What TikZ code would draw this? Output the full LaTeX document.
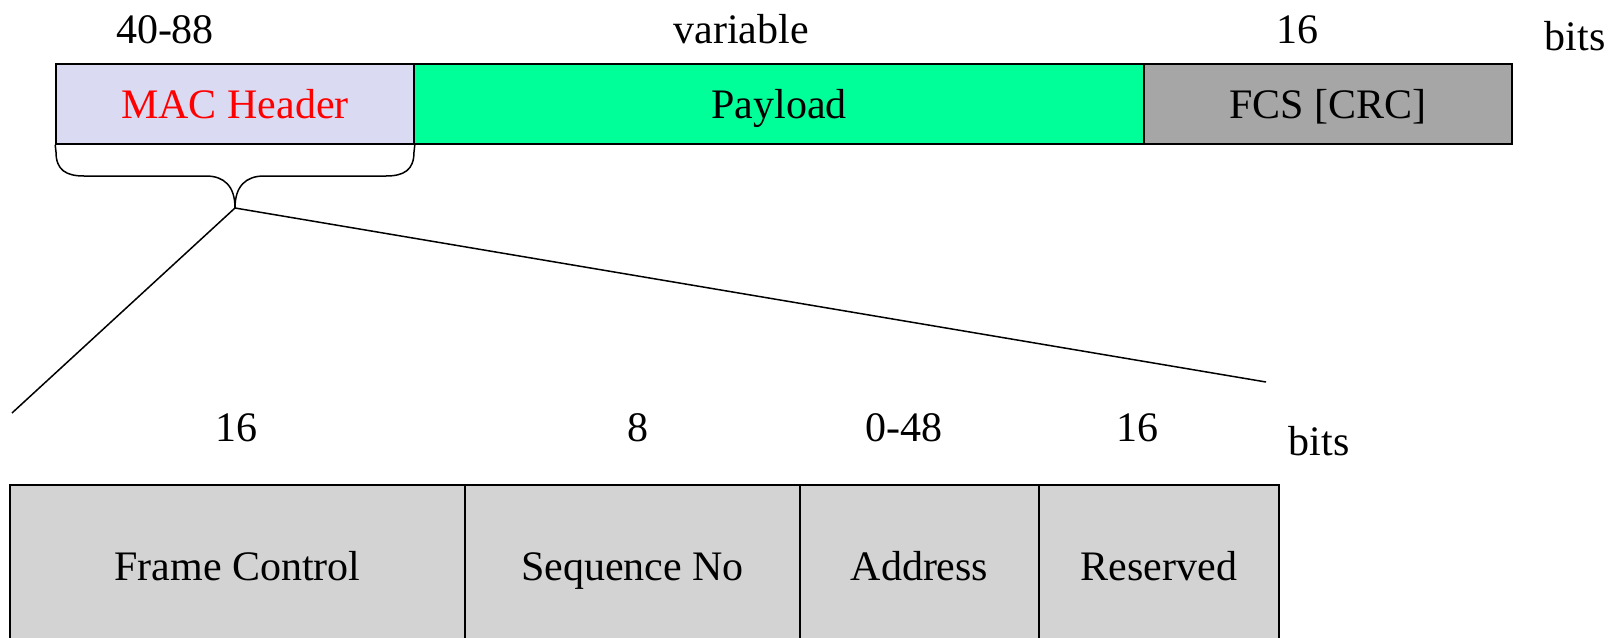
\documentclass[tikz,border=0pt]{standalone}
\usepackage{fontspec}
\setmainfont{Liberation Serif}
\definecolor{macfill}{RGB}{218,218,243}
\definecolor{payfill}{RGB}{0,255,153}
\definecolor{fcsfill}{RGB}{166,166,166}
\definecolor{subfill}{RGB}{211,211,211}
\begin{document}
\begin{tikzpicture}[x=0.5pt,y=-0.5pt,
  every node/.style={font=\fontsize{21}{25}\selectfont, text height=14.3pt, text depth=0pt},
  field/.style={draw=black, line width=0.8pt, inner sep=0pt, anchor=center},
  lbl/.style={inner sep=0pt, anchor=center},
  link/.style={draw=black, line width=0.75pt}]
\useasboundingbox (0,0) rectangle (1621,637);
% top frame
\node[field, fill=macfill, text=red, minimum width=179pt, minimum height=40pt] (mac) at (235,104) {MAC Header};
\node[field, fill=payfill, minimum width=365pt, minimum height=40pt] (pay) at (779,104) {Payload};
\node[field, fill=fcsfill, minimum width=184pt, minimum height=40pt] (fcs) at (1328,104) {FCS [CRC]};
\node[lbl] (l1) at (165,29) {40-88};
\node[lbl] (l2) at (741,29) {variable};
\node[lbl] (l3) at (1297,29) {16};
\node[lbl] (l4) at (1575,36) {bits};
% brace
\coordinate (tip) at (235,208);
\draw[link] (mac.south west) -- (56,152) .. controls (56,170) and (66,176) .. (84,176) -- (206,176)
  .. controls (224,176) and (235,186) .. (tip)
  .. controls (235,186) and (246,176) .. (264,176) -- (386,176)
  .. controls (404,176) and (414,170) .. (414,152) -- (mac.south east);
% expansion lines
\coordinate (ea) at (12,413);
\coordinate (eb) at (1266,382);
\draw[link] (tip) -- (ea);
\draw[link] (tip) -- (eb);
% bottom header fields
\node[field, fill=subfill, minimum width=227.5pt, minimum height=81pt] (fc) at (237.5,566) {Frame Control};
\node[field, fill=subfill, minimum width=167.5pt, minimum height=81pt] (seq) at (632.5,566) {Sequence No};
\node[field, fill=subfill, minimum width=119.5pt, minimum height=81pt] (addr) at (919.5,566) {Address};
\node[field, fill=subfill, minimum width=120pt, minimum height=81pt] (res) at (1159,566) {Reserved};
\node[lbl] (b1) at (236,427) {16};
\node[lbl] (b2) at (638,427) {8};
\node[lbl] (b3) at (904,427) {0-48};
\node[lbl] (b4) at (1137,427) {16};
\node[lbl] (b5) at (1319,441) {bits};
\end{tikzpicture}
\end{document}
